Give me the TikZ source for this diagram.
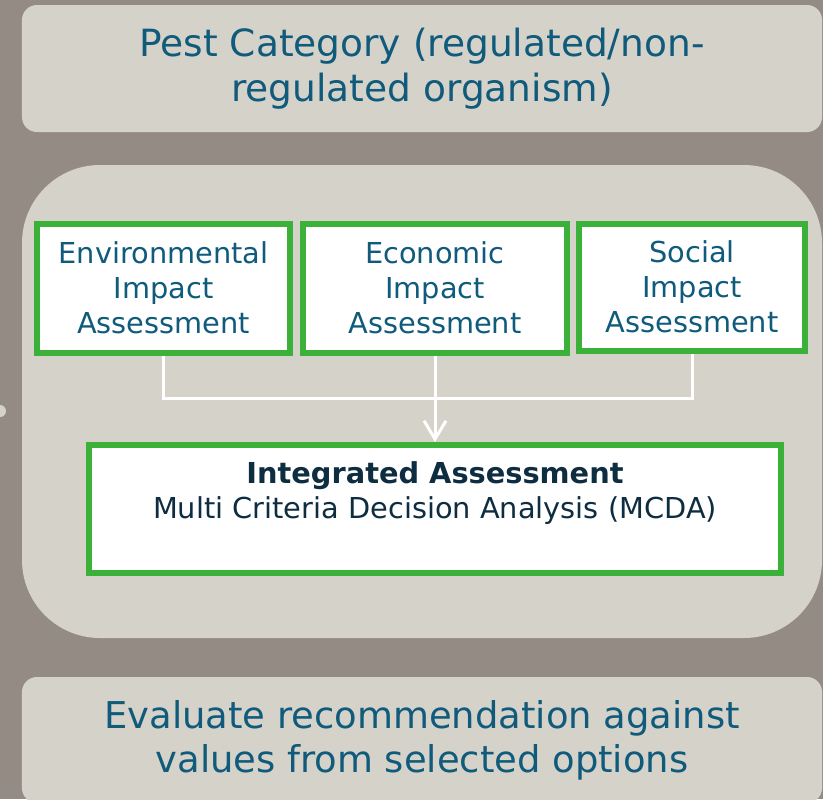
\documentclass[tikz,border=0pt]{standalone}
\usepackage{fontspec}
\setmainfont{DejaVu Sans}
\usetikzlibrary{arrows.meta}
\definecolor{slate}{HTML}{948B85}
\definecolor{sand}{HTML}{D5D2CA}
\definecolor{tealblue}{HTML}{105A7B}
\definecolor{navy}{HTML}{0E2D40}
\definecolor{leaf}{HTML}{3BB13A}
\begin{document}
\begin{tikzpicture}[x=0.03cm, y=-0.03cm,
    panel/.style={rectangle, fill=sand, rounded corners=0.45cm, inner sep=0pt,
      text=tealblue, align=center},
    impact/.style={rectangle, draw=leaf, line width=0.18cm, fill=white, inner sep=0pt,
      text=tealblue, align=center, font=\fontsize{24.6}{29.9}\selectfont},
    link/.style={draw=white, line width=0.09cm}
    ]
    \useasboundingbox (0,0) rectangle (823,799);
    \clip (0,0) rectangle (823,799);
    \fill[slate] (0,0) rectangle (823,799);
    \fill[sand] (0,411) circle [radius=0.18cm];
    % outer frame
    \node[panel, minimum width=24cm, minimum height=3.81cm,
      font=\fontsize{32}{38.4}\selectfont] (pest) at (422,68.5)
      {Pest Category (regulated/non-\\regulated organism)};
    \fill[sand, rounded corners=2.34cm] (22,165) rectangle (822,638);
    \node[panel, minimum width=24cm, minimum height=3.78cm,
      font=\fontsize{31.5}{37.5}\selectfont] (evaluate) at (422,740)
      {Evaluate recommendation against\\values from selected options};
    % assessments
    \node[impact, minimum width=7.59cm, minimum height=3.87cm] (env) at (163.5,288)
      {Environmental\\Impact\\Assessment};
    \node[impact, minimum width=7.92cm, minimum height=3.87cm] (eco) at (435,288)
      {Economic\\Impact\\Assessment};
    \node[impact, minimum width=6.78cm, minimum height=3.81cm] (soc) at (692,287)
      {Social\\Impact\\Assessment};
    \node[impact, minimum width=20.76cm, minimum height=3.84cm, text=navy] (integ) at (435,509)
      {\textbf{Integrated Assessment}\\Multi Criteria Decision Analysis (MCDA)\\[2pt]\mbox{}};
    \coordinate (join) at (435,398);
    \draw[link] (env.south) |- (join) -| (soc.south);
    \draw[link, -{Straight Barb[length=0.55cm, width=0.66cm]}] (eco.south) -- (integ.north);
  \end{tikzpicture}
\end{document}
